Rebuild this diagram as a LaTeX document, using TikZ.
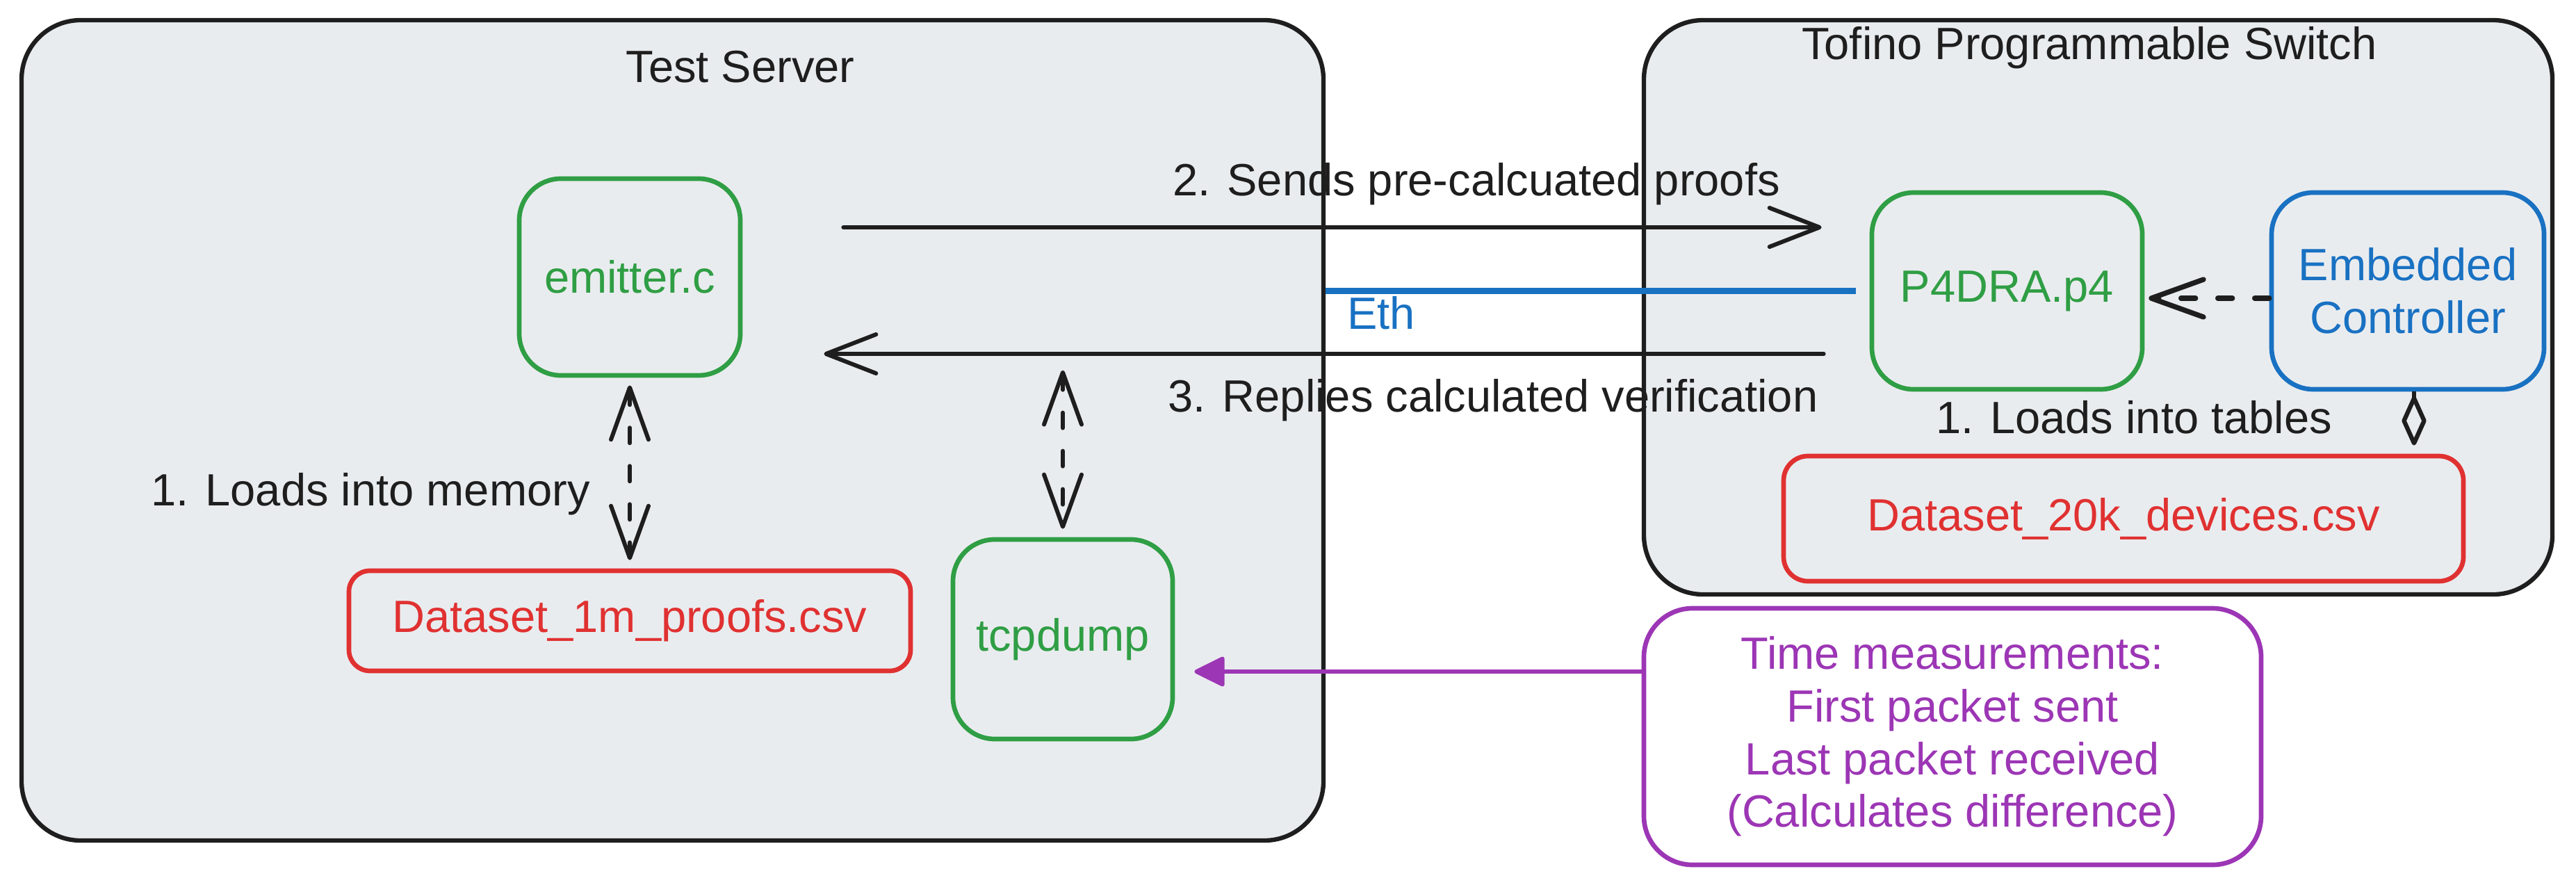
\documentclass[tikz,border=0pt]{standalone}
\usepackage{fontspec}
\setmainfont{Liberation Sans}
\usetikzlibrary{arrows.meta}

\definecolor{ink}{HTML}{1E1E1E}
\definecolor{panel}{HTML}{E9ECEF}
\definecolor{codegreen}{HTML}{2F9E44}
\definecolor{filered}{HTML}{E03131}
\definecolor{ethblue}{HTML}{1971C2}
\definecolor{measpurple}{HTML}{9C36B5}

\tikzset{
  every node/.style={font=\fontsize{18.5pt}{21.5pt}\selectfont},
  group/.style={draw=ink, line width=1.8pt, fill=panel, rounded corners=0.85cm},
  comp/.style={draw=#1, text=#1, line width=1.9pt, rounded corners=0.6cm, align=center},
  datafile/.style={draw=filered, text=filered, line width=1.9pt, rounded corners=0.3cm},
  note/.style={text=ink, anchor=base},
  msg/.style={draw=ink, line width=1.7pt, line cap=round,
    -{Straight Barb[length=0.72cm, width=0.56cm, round]}},
  load/.style={draw=ink, line width=1.7pt, line cap=round, dash pattern=on 0.22cm off 0.33cm,
    {Straight Barb[length=0.75cm, width=0.54cm, round]}-{Straight Barb[length=0.75cm, width=0.54cm, round]}},
  push/.style={draw=ink, line width=2.1pt, line cap=round, dash pattern=on 0.21cm off 0.32cm,
    -{Straight Barb[length=0.75cm, width=0.54cm, round]}},
  pairlink/.style={draw=ink, line width=1.8pt,
    -{Kite[open, length=0.80cm, width=0.36cm, inset=0.40cm, round]}},
  ethlink/.style={draw=ethblue, line width=2.6pt},
  measure/.style={draw=measpurple, line width=1.6pt,
    -{Triangle[length=0.47cm, width=0.45cm, round]}}
}

\begin{document}
\begin{tikzpicture}
  \useasboundingbox (0,0) rectangle (37.06,-12.73);

  % Test Server on the left
  \node[group, minimum width=18.73cm, minimum height=11.80cm] (server) at (9.675,-6.19) {};
  \node[note] (serverTitle) at (10.65,-1.18) {Test Server};

  \node[comp=codegreen, minimum width=3.18cm, minimum height=2.83cm] (emitter) at (9.06,-3.985) {emitter.c};
  \node[datafile, minimum width=8.08cm, minimum height=1.44cm] (proofs) at (9.06,-8.93) {Dataset\_1m\_proofs.csv};
  \node[comp=codegreen, minimum width=3.16cm, minimum height=2.87cm] (tcpdump) at (15.29,-9.195) {tcpdump};

  % Tofino switch on the right
  \node[group, minimum width=13.07cm, minimum height=8.26cm] (switch) at (30.185,-4.42) {};
  \node[note] (switchTitle) at (30.06,-0.85) {Tofino Programmable Switch};

  \node[comp=codegreen, minimum width=3.89cm, minimum height=2.83cm] (p4) at (28.875,-4.185) {P4DRA.p4};
  \node[comp=ethblue, minimum width=3.92cm, minimum height=2.83cm] (ctrl) at (34.64,-4.185) {Embedded\\Controller};
  \node[datafile, rounded corners=0.35cm, minimum width=9.78cm, minimum height=1.80cm] (devices) at (30.55,-7.46) {Dataset\_20k\_devices.csv};

  % measurement note below the switch
  \node[comp=measpurple, fill=white, rounded corners=0.7cm, minimum width=8.88cm, minimum height=3.69cm] (timing) at (28.09,-10.595)
    {Time measurements:\\First packet sent\\Last packet received\\(Calculates difference)};

  % traffic between server and switch
  \coordinate (sendY) at ([yshift=0.715cm]emitter.east);
  \coordinate (replyY) at ([yshift=-1.105cm]emitter.east);
  \draw[msg, shorten <=1.45cm, shorten >=0.69cm] (sendY) -- (sendY -| p4.west);
  \draw[msg, shorten <=0.66cm, shorten >=1.17cm] (replyY -| p4.west) -- (replyY);
  \node[note] (sendLabel) at (21.24,-2.81) {2. Sends pre-calcuated proofs};
  \node[note] (replyLabel) at (21.48,-5.92) {3. Replies calculated verification};

  \draw[ethlink, shorten >=0.2cm] (server.east |- p4.west) -- (p4.west)
    node[pos=0, anchor=base west, text=ethblue, xshift=0.15cm, yshift=-0.55cm] {Eth};

  % loading the datasets
  \coordinate (tap) at ([yshift=2.51cm]tcpdump.north);
  \foreach \from/\to in {emitter.south/proofs.north, tap/tcpdump.north}
    \draw[load, shorten <=0.11cm, shorten >=0.12cm] (\from) -- (\to);
  \node[note] (memLabel) at (5.33,-7.27) {1. Loads into memory};

  \draw[push, shorten >=0.06cm] ([yshift=-0.105cm]ctrl.west) -- ([yshift=-0.105cm]p4.east);
  \coordinate (ctrlFoot) at ([xshift=0.09cm]ctrl.south);
  \draw[pairlink, shorten >=0.12cm] (ctrlFoot) -- (ctrlFoot |- devices.north);
  \node[note] (tableLabel) at (30.70,-6.23) {1. Loads into tables};

  % timing taken at tcpdump
  \coordinate (timeTap) at ([yshift=0.935cm]timing.west);
  \draw[measure, shorten >=0.28cm] (timeTap) -- (timeTap -| tcpdump.east);

\end{tikzpicture}
\end{document}
